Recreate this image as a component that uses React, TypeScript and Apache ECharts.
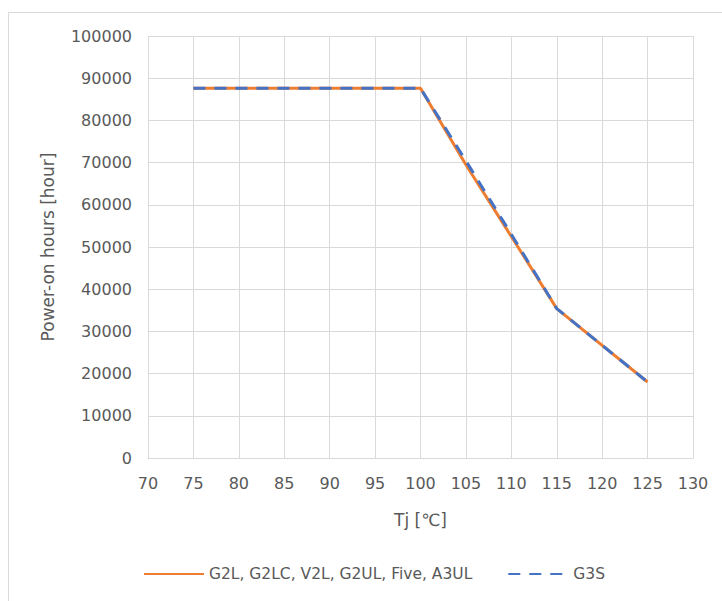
import React, { useEffect, useRef } from "react";
import * as echarts from "echarts";

const xTicks = [70, 75, 80, 85, 90, 95, 100, 105, 110, 115, 120, 125, 130];
const tempPoints = [75, 80, 85, 90, 95, 100, 105, 110, 115, 120, 125];
const seriesAName = "G2L, G2LC, V2L, G2UL, Five, A3UL";
const seriesAValues = [87600, 87600, 87600, 87600, 87600, 87600, 69500, 52500, 35400, 26700, 18000];
const seriesBName = "G3S";
const seriesBValues = [87600, 87600, 87600, 87600, 87600, 87600, 70400, 53000, 35400, 26700, 18000];

const FONT = "DejaVu Sans";
const TXT = "#595959";
const GRID = "#d9d9d9";

export default function App() {
  const ref = useRef<HTMLDivElement>(null);
  useEffect(() => {
    if (!ref.current) return;
    const chart = echarts.init(ref.current, null, { renderer: "svg" });
    const toPairs = (vals: number[]) => tempPoints.map((t, i) => [t, vals[i]]);
    chart.setOption({
      animation: false,
      backgroundColor: "#ffffff",
      textStyle: { fontFamily: FONT, color: TXT },
      graphic: [
        {
          type: "rect",
          shape: { x: 8.5, y: 12.5, width: 730, height: 600 },
          style: { fill: "none", stroke: GRID, lineWidth: 1 },
          silent: true,
        },
      ],
      grid: { left: 148, right: 29, top: 36, bottom: 143 },
      xAxis: {
        type: "value",
        min: xTicks[0],
        max: xTicks[xTicks.length - 1],
        interval: 5,
        name: "Tj [℃]",
        nameLocation: "middle",
        nameGap: 53,
        nameTextStyle: { fontSize: 17, color: TXT, fontFamily: FONT },
        axisLine: { show: true, lineStyle: { color: GRID, width: 1 } },
        axisTick: { show: false },
        axisLabel: { fontSize: 16, color: TXT, margin: 17, fontFamily: FONT },
        splitLine: { show: true, lineStyle: { color: GRID, width: 1 } },
      },
      yAxis: {
        type: "value",
        min: 0,
        max: 100000,
        interval: 10000,
        name: "Power-on hours [hour]",
        nameLocation: "middle",
        nameGap: 92,
        nameTextStyle: { fontSize: 17, color: TXT, fontFamily: FONT },
        axisLine: { show: false },
        axisTick: { show: false },
        axisLabel: {
          fontSize: 16,
          color: TXT,
          margin: 16,
          fontFamily: FONT,
          formatter: (v: number) => String(v),
        },
        splitLine: { show: true, lineStyle: { color: GRID, width: 1 } },
      },
      legend: {
        left: 143,
        top: 566,
        padding: 0,
        itemWidth: 60,
        itemHeight: 14,
        itemGap: 35,
        itemStyle: { opacity: 0 },
        textStyle: { fontSize: 15.5, color: TXT, fontFamily: FONT },
        data: [seriesAName, seriesBName],
      },
      series: [
        {
          name: seriesAName,
          type: "line",
          data: toPairs(seriesAValues),
          symbol: "none",
          lineStyle: { color: "#ED7D31", width: 3 },
          itemStyle: { color: "#ED7D31" },
        },
        {
          name: seriesBName,
          type: "line",
          data: toPairs(seriesBValues),
          symbol: "none",
          lineStyle: { color: "#4472C4", width: 3, type: [12, 9] },
          itemStyle: { color: "#4472C4" },
        },
      ],
    });
    return () => chart.dispose();
  }, []);
  return (
    <div
      ref={ref}
      style={{ position: "absolute", left: 0, top: 0, width: 722, height: 601 }}
    />
  );
}
